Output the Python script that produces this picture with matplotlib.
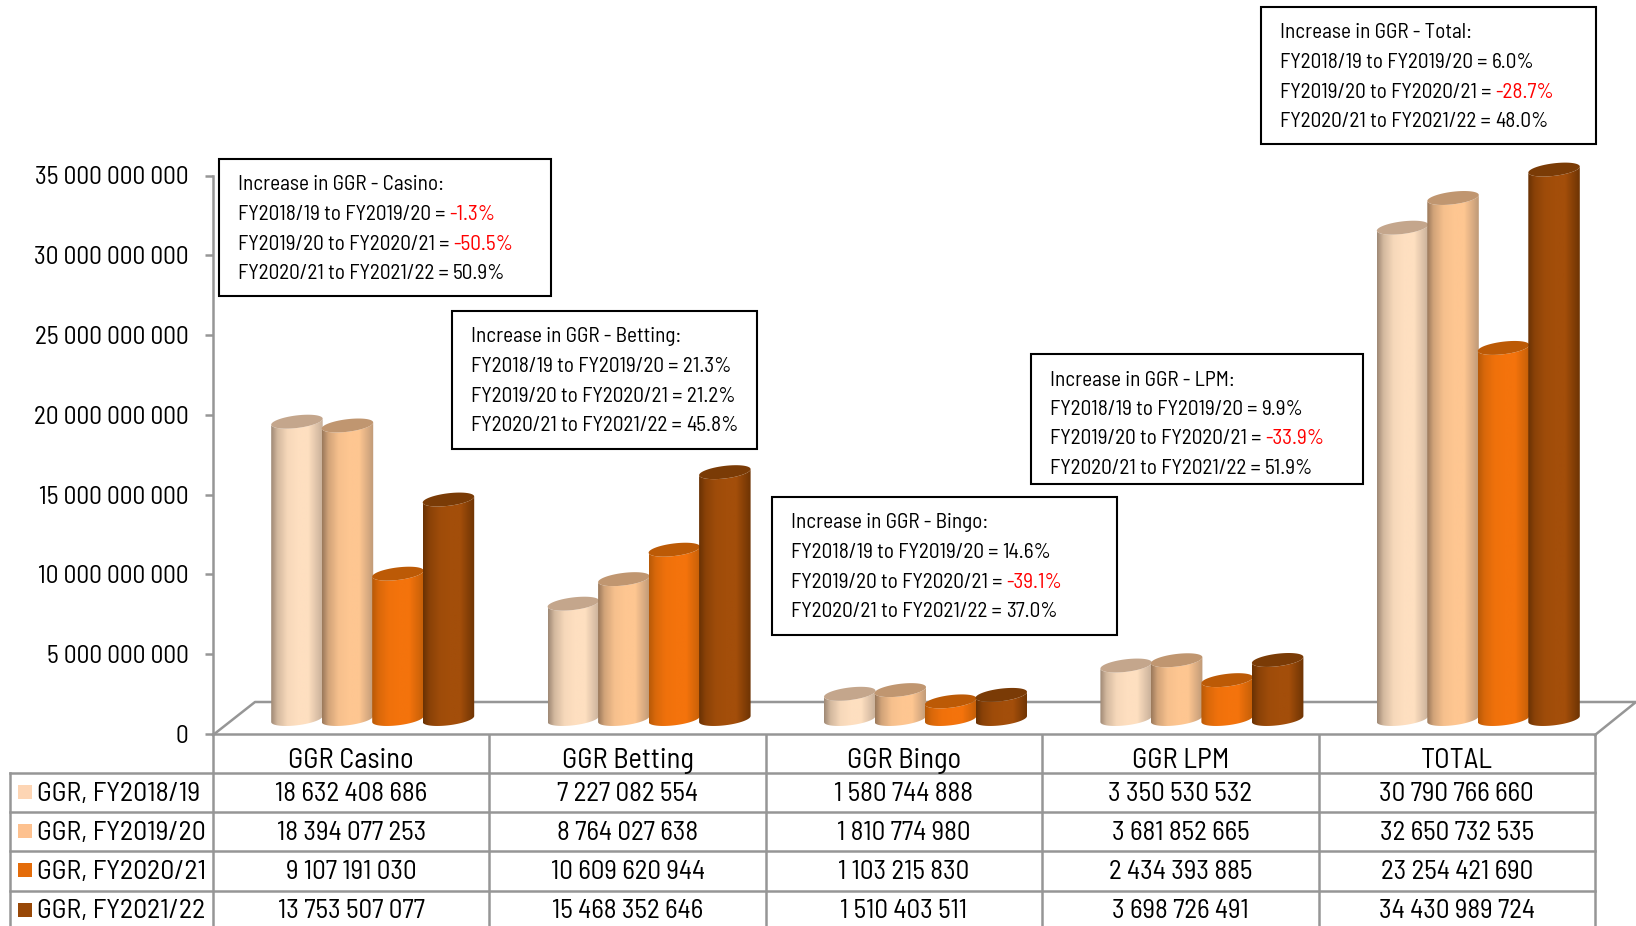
import numpy as np
import matplotlib
matplotlib.use('Agg')
import matplotlib.pyplot as plt
from matplotlib.path import Path
from matplotlib.patches import PathPatch, Rectangle
from matplotlib.colors import LinearSegmentedColormap, to_rgb
from matplotlib.ticker import FuncFormatter

# data
categories = ['GGR Casino', 'GGR Betting', 'GGR Bingo', 'GGR LPM', 'TOTAL']
series_names = ['GGR, FY2018/19', 'GGR, FY2019/20', 'GGR, FY2020/21', 'GGR, FY2021/22']
fy1819 = [18632408686, 7227082554, 1580744888, 3350530532, 30790766660]
fy1920 = [18394077253, 8764027638, 1810774980, 3681852665, 32650732535]
fy2021 = [9107191030, 10609620944, 1103215830, 2434393885, 23254421690]
fy2122 = [13753507077, 15468352646, 1510403511, 3698726491, 34430989724]
series = [fy1819, fy1920, fy2021, fy2122]

box_titles = ['Casino', 'Betting', 'Bingo', 'LPM', 'Total']
growth_1 = [-1.3, 21.3, 14.6, 9.9, 6.0]
growth_2 = [-50.5, 21.2, -39.1, -33.9, -28.7]
growth_3 = [50.9, 45.8, 37.0, 51.9, 48.0]

# styles
swatch = ['#fdd5b4', '#fdc18f', '#e46c0a', '#984807']
face = ['#fedfc0', '#fec691', '#f4730c', '#a34e0a']
edge_l = ['#a08a76', '#9c7a5c', '#b85a08', '#6a3204']
edge_r = ['#c8b09a', '#c09a78', '#c45f08', '#6e3404']
cap = ['#c4a68c', '#c09670', '#bc5a06', '#7a3b06']
GRID = '#969696'

W, H = 1636, 926
plt.rcParams['font.family'] = ['Barlow Semi Condensed', 'Liberation Sans']
fig = plt.figure(figsize=(W / 100, H / 100), dpi=100)
FS = 19.5
BOX_FS = 15.3

# pixel layers, under the bars for the floor, over them for table and boxes
under = fig.add_axes([0, 0, 1, 1], zorder=0)
pix = fig.add_axes([0, 0, 1, 1], zorder=3)
for a in (under, pix):
    a.set_xlim(0, W)
    a.set_ylim(H, 0)
    a.axis('off')
    a.patch.set_alpha(0)

# front frame: y axis with ticks
L, R, Y0, Y35 = 213, 1595, 734, 175.5
ax = fig.add_axes([L / W, 1 - Y0 / H, (R - L) / W, (Y0 - Y35) / H], zorder=1)
ax.set_xlim(0, len(categories))
ax.set_ylim(0, 35e9)
ax.patch.set_alpha(0)
for s in ['top', 'right']:
    ax.spines[s].set_visible(False)
for s in ['left', 'bottom']:
    ax.spines[s].set_color(GRID)
    ax.spines[s].set_linewidth(1.8)
ax.set_xticks([])
ax.set_yticks(np.arange(0, 35e9 + 1, 5e9))
ax.yaxis.set_major_formatter(FuncFormatter(lambda v, p: f'{v:,.0f}'.replace(',', ' ')))
ax.tick_params(axis='y', length=5.5, width=1.8, color=GRID, labelsize=18.3, pad=12, labelcolor='black')

# floor of the 3D box
DX, DY = 42, 32
under.plot([L, L + DX, R + DX - 1, R], [Y0 + 1, Y0 - DY, Y0 - DY, Y0 + 1], color=GRID, lw=1.8, clip_on=False)

# bars live on a copy of the axes shifted half way into the floor,
# with some room under zero so the round bottoms are not cut
sx = len(categories) / (R - L)
sy = 35e9 / (Y0 - Y35)
ROOM = 20
bx = fig.add_axes([(L + 21.5) / W, 1 - (Y0 - 15 + ROOM) / H, (R - L) / W, (Y0 - Y35 + ROOM) / H], zorder=2)
bx.patch.set_alpha(0)
bx.axis('off')
bar_w = 50.5 * sx
half = 25.75 * sx
b = 6.3 * sy
tilt = 3 * sy


def mix(c1, c2, f):
    return tuple(np.array(to_rgb(c1)) * (1 - f) + np.array(to_rgb(c2)) * f)


def gradient(i):
    nodes = [(0, edge_l[i]), (.12, mix(edge_l[i], face[i], .55)), (.32, mix(edge_l[i], face[i], .92)), (.52, face[i]),
             (.72, face[i]), (1, edge_r[i])]
    return LinearSegmentedColormap.from_list('c', nodes)


t = np.linspace(0, np.pi, 40)
tt = np.linspace(0, 2 * np.pi, 60)
for g in range(len(categories)):
    for i, vals in enumerate(series):
        v = vals[g]
        cx = g + 0.5 + (i - 1.5) * bar_w
        # front half of the base and of the top ellipse
        xb = cx - half * np.cos(t)
        yb = -b * np.sin(t) - tilt * np.cos(t)
        xt = cx + half * np.cos(t)
        yt = v - b * np.sin(t) + tilt * np.cos(t)
        body = Path(np.column_stack([np.r_[xb, xt], np.r_[yb, yt]]))
        img = bx.imshow(np.linspace(0, 1, 64).reshape(1, -1), extent=(cx - half, cx + half, -3 * b, v + 2 * b), aspect='auto',
                        cmap=gradient(i), interpolation='bilinear', zorder=2 + g * 10 + i)
        img.set_clip_path(PathPatch(body, transform=bx.transData))
        bx.fill(cx + half * np.cos(tt), v + b * np.sin(tt) + tilt * np.cos(tt), color=cap[i], lw=0,
                zorder=2.5 + g * 10 + i, clip_on=False)
bx.set_xlim(0, len(categories))
bx.set_ylim(-ROOM * sy, 35e9)

# table
cell = (R - L) / len(categories)
rows = [772.5, 812, 851, 890.5]
OUT = 9.5
for k in range(len(categories) + 1):
    pix.plot([L + k * cell] * 2, [Y0 + 1, H], color=GRID, lw=1.8)
pix.plot([OUT, OUT], [rows[0], H], color=GRID, lw=1.8)
for y in rows:
    pix.plot([OUT, R], [y, y], color=GRID, lw=1.8)
for k, c in enumerate(categories):
    pix.text(L + (k + .5) * cell, 761, c, ha='center', va='center', fontsize=20.5, color='black')
row_y = [794, 833, 872, 911.5]
for i, name in enumerate(series_names):
    pix.add_patch(Rectangle((18, row_y[i] - 9), 14, 14, color=swatch[i], lw=0))
    pix.text(37, row_y[i], name, ha='left', va='center', fontsize=20, color='black')
    for k in range(len(categories)):
        pix.text(L + (k + .5) * cell, row_y[i], f'{series[i][k]:,}'.replace(',', ' '), ha='center', va='center',
                 fontsize=FS, color='black')

# note boxes: left, top, right, bottom
boxes = [(219, 159, 551, 296), (452, 311, 757, 449), (772, 497, 1117, 635), (1031, 354, 1363, 484), (1261, 7, 1596, 144)]
periods = ['FY2018/19 to FY2019/20 = ', 'FY2019/20 to FY2020/21 = ', 'FY2020/21 to FY2021/22 = ']
fig.canvas.draw()
rend = fig.canvas.get_renderer()
for n, (x0, y0, x1, y1) in enumerate(boxes):
    pix.add_patch(Rectangle((x0, y0), x1 - x0, y1 - y0, fc='white', ec='black', lw=1.5, zorder=5))
    tx = x0 + 19
    ys = [y0 + 31.5 + 29.5 * j for j in range(4)]
    pix.text(tx, ys[0], 'Increase in GGR - ' + box_titles[n] + ':', fontsize=BOX_FS, va='baseline', zorder=6)
    for j, (p, g) in enumerate(zip(periods, [growth_1[n], growth_2[n], growth_3[n]])):
        a = pix.text(tx, ys[j + 1], p, fontsize=BOX_FS, va='baseline', zorder=6)
        ext = a.get_window_extent(rend)
        pix.text(ext.x1, ys[j + 1], f'{g:.1f}%', fontsize=BOX_FS, va='baseline', zorder=6,
                 color='red' if g < 0 else 'black')

fig.savefig('out.png', dpi=100)
